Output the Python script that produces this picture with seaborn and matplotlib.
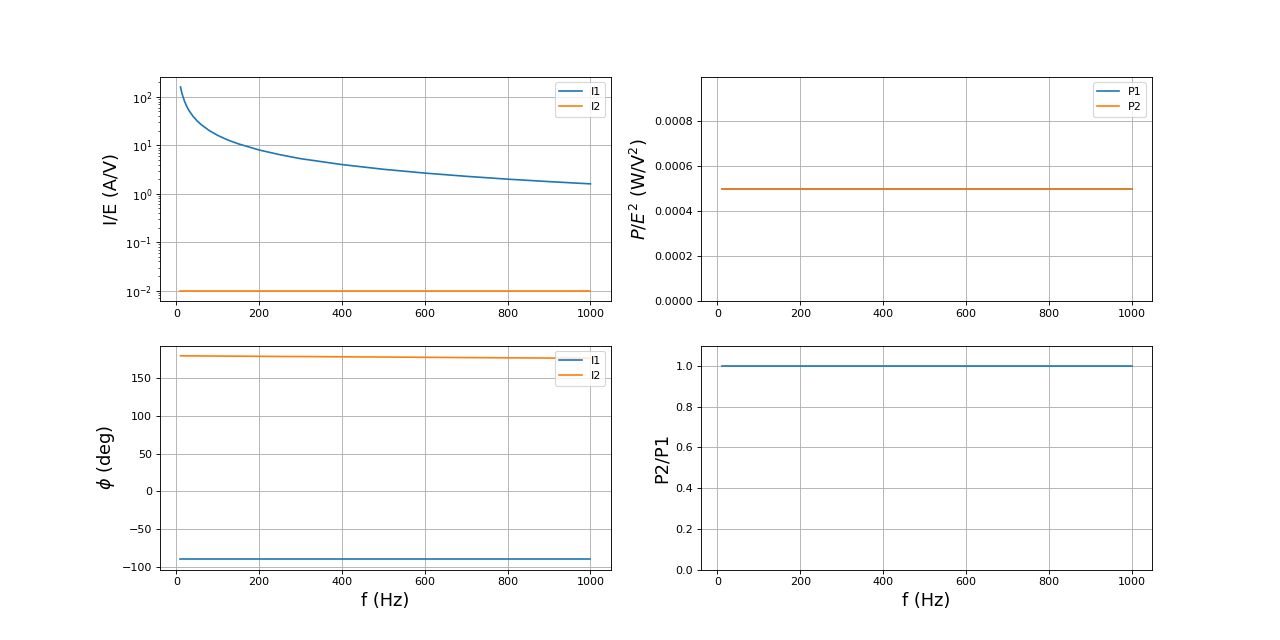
import matplotlib
matplotlib.use("Agg")
import matplotlib.pyplot as plt
import seaborn as sns
import pandas as pd

# frequency samples (Hz)
freq = [10, 12, 15, 20, 25, 30, 40, 50, 60, 80, 100, 125, 150, 200, 250,
        300, 400, 500, 600, 700, 800, 900, 1000]
# |I/E| (A/V)
i1_mag = [160, 133, 107, 80, 64, 53, 40, 32, 26.7, 20, 16, 12.8, 10.7, 8.0,
          6.4, 5.3, 4.0, 3.2, 2.67, 2.29, 2.0, 1.78, 1.6]
i2_mag = [0.01] * 23
# P/E^2 (W/V^2)
p1 = [0.0005] * 23
p2 = [0.0005] * 23
# phase (deg)
i1_phase = [-90] * 23
i2_phase = [179.7, 179.7, 179.6, 179.6, 179.6, 179.6, 179.5, 179.5, 179.5,
            179.4, 179.3, 179.2, 179.2, 179.0, 178.8, 178.7, 178.3, 178.0,
            177.7, 177.3, 177.0, 176.7, 176.4]
# ratio
ratio = [1.0] * 23

df = pd.DataFrame({"f": freq, "I1": i1_mag, "I2": i2_mag, "P1": p1, "P2": p2,
                   "ph1": i1_phase, "ph2": i2_phase, "ratio": ratio})

fig, axes = plt.subplots(2, 2, figsize=(16, 8), dpi=80)
ax1, ax2 = axes[0]
ax3, ax4 = axes[1]

sns.lineplot(data=df, x="f", y="I1", ax=ax1, label="I1", color="C0")
sns.lineplot(data=df, x="f", y="I2", ax=ax1, label="I2", color="C1")
ax1.set_yscale("log")
ax1.set_ylabel("I/E (A/V)", fontsize=16)
ax1.set_xlabel("")
ax1.legend(loc="upper right")

sns.lineplot(data=df, x="f", y="P1", ax=ax2, label="P1", color="C0")
sns.lineplot(data=df, x="f", y="P2", ax=ax2, label="P2", color="C1")
ax2.set_ylim(0, 0.000999)
ax2.set_ylabel(r"$P/E^2$ (W/V$^2$)", fontsize=16)
ax2.set_xlabel("")
ax2.legend(loc="upper right")

sns.lineplot(data=df, x="f", y="ph1", ax=ax3, label="I1", color="C0")
sns.lineplot(data=df, x="f", y="ph2", ax=ax3, label="I2", color="C1")
ax3.set_ylabel(r"$\phi$ (deg)", fontsize=16)
ax3.set_xlabel("f (Hz)", fontsize=16)
ax3.legend(loc="upper right")

sns.lineplot(data=df, x="f", y="ratio", ax=ax4, color="C0")
ax4.set_ylim(0, 1.1)
ax4.set_ylabel("P2/P1", fontsize=16)
ax4.set_xlabel("f (Hz)", fontsize=16)

for ax in (ax1, ax2, ax3, ax4):
    ax.grid(True)
    ax.set_xticks([0, 200, 400, 600, 800, 1000])

fig.savefig("out.png", dpi=80)
